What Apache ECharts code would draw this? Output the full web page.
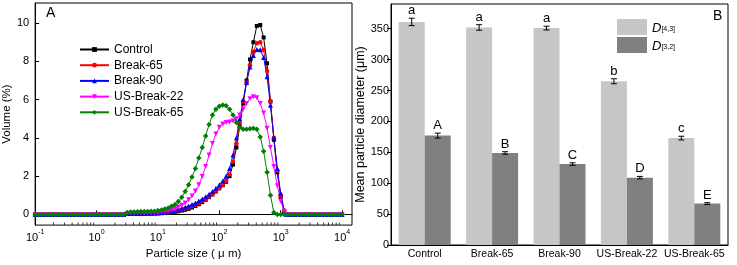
<!DOCTYPE html>
<html>
<head>
<meta charset="utf-8">
<script src="https://cdn.jsdelivr.net/npm/echarts@6/dist/echarts.min.js"></script>
<style>
  html, body { margin: 0; padding: 0; background: #fff; }
  #chart { width: 737px; height: 265px; }
</style>
</head>
<body>
<div id="chart"></div>
<script>
// particle size bins (um), log spaced
const sizes = [
  0.1, 0.114, 0.129, 0.147, 0.167, 0.19, 0.215, 0.245, 0.278, 0.316, 0.359, 0.408, 0.464, 0.527, 0.599, 0.681, 0.774, 0.88,
  1, 1.14, 1.29, 1.47, 1.67, 1.9, 2.15, 2.45, 2.78, 3.16, 3.59, 4.08, 4.64, 5.27, 5.99, 6.81, 7.74, 8.8,
  10, 11.4, 12.9, 14.7, 16.7, 19, 21.5, 24.5, 27.8, 31.6, 35.9, 40.8, 46.4, 52.7, 59.9, 68.1, 77.4, 88,
  100, 114, 129, 147, 167, 190, 215, 245, 278, 316, 359, 408, 464, 527, 599, 681, 774, 880,
  1000, 1140, 1290, 1470, 1670, 1900, 2150, 2450, 2780, 3160, 3590, 4080, 4640, 5270, 5990, 6810, 7740, 8800,
  10000
];

// volume (%) per bin
const control = [
  0, 0, 0, 0, 0, 0, 0, 0, 0, 0, 0, 0, 0, 0, 0, 0, 0, 0,
  0, 0, 0, 0, 0, 0, 0, 0, 0, 0.02, 0.02, 0.03, 0.03, 0.03, 0.04, 0.04, 0.04, 0.05,
  0.05, 0.06, 0.07, 0.08, 0.1, 0.13, 0.16, 0.2, 0.24, 0.29, 0.36, 0.44, 0.53, 0.64, 0.76, 0.9, 1.04, 1.2,
  1.36, 1.52, 1.7, 2.0, 2.6, 3.5, 4.6, 5.8, 7.0, 8.1, 9.0, 9.85, 9.9, 9.25, 7.9, 5.9, 3.9, 2.2,
  0.9, 0.1, 0, 0, 0, 0, 0, 0, 0, 0, 0, 0, 0, 0, 0, 0, 0, 0,
  0
];
const break65 = [
  0, 0, 0, 0, 0, 0, 0, 0, 0, 0, 0, 0, 0, 0, 0, 0, 0, 0,
  0, 0, 0, 0, 0, 0, 0, 0, 0, 0.03, 0.03, 0.04, 0.04, 0.04, 0.05, 0.05, 0.05, 0.06,
  0.07, 0.08, 0.1, 0.12, 0.14, 0.17, 0.21, 0.25, 0.3, 0.36, 0.43, 0.51, 0.6, 0.7, 0.81, 0.93, 1.06, 1.2,
  1.36, 1.55, 1.75, 2.1, 2.75, 3.7, 4.8, 5.9, 6.9, 7.8, 8.5, 8.95, 9.0, 8.6, 7.5, 5.9, 4.0, 2.3,
  1.0, 0.2, 0, 0, 0, 0, 0, 0, 0, 0, 0, 0, 0, 0, 0, 0, 0, 0,
  0
];
const break90 = [
  0, 0, 0, 0, 0, 0, 0, 0, 0, 0, 0, 0, 0, 0, 0, 0, 0, 0,
  0, 0, 0, 0, 0, 0, 0, 0, 0, 0.04, 0.04, 0.05, 0.05, 0.05, 0.06, 0.06, 0.07, 0.07,
  0.08, 0.1, 0.12, 0.14, 0.17, 0.21, 0.26, 0.31, 0.37, 0.44, 0.52, 0.6, 0.7, 0.8, 0.92, 1.05, 1.2, 1.36,
  1.55, 1.75, 2.0, 2.4, 3.1, 4.0, 5.0, 6.0, 6.9, 7.7, 8.3, 8.62, 8.6, 8.2, 7.2, 5.7, 4.0, 2.4,
  1.1, 0.2, 0, 0, 0, 0, 0, 0, 0, 0, 0, 0, 0, 0, 0, 0, 0, 0,
  0
];
const usBreak22 = [
  0, 0, 0, 0, 0, 0, 0, 0, 0, 0, 0, 0, 0, 0, 0, 0, 0, 0,
  0, 0, 0, 0, 0, 0, 0, 0, 0, 0.05, 0.06, 0.06, 0.07, 0.07, 0.07, 0.08, 0.08, 0.08,
  0.1, 0.12, 0.15, 0.19, 0.24, 0.3, 0.38, 0.48, 0.6, 0.76, 0.96, 1.22, 1.55, 1.98, 2.5, 3.1, 3.7, 4.2,
  4.55, 4.72, 4.8, 4.83, 4.88, 5.0, 5.2, 5.5, 5.8, 6.05, 6.15, 6.1, 5.8, 5.3, 4.5, 3.5, 2.5, 1.5,
  0.7, 0.15, 0, 0, 0, 0, 0, 0, 0, 0, 0, 0, 0, 0, 0, 0, 0, 0,
  0
];
const usBreak65 = [
  0, 0, 0, 0, 0, 0, 0, 0, 0, 0, 0, 0, 0, 0, 0, 0, 0, 0,
  0, 0, 0, 0, 0, 0, 0, 0, 0, 0.1, 0.12, 0.13, 0.14, 0.15, 0.15, 0.15, 0.16, 0.17,
  0.2, 0.23, 0.28, 0.34, 0.42, 0.52, 0.68, 0.9, 1.2, 1.55, 1.95, 2.4, 2.95, 3.5, 4.1, 4.7, 5.2, 5.5,
  5.65, 5.72, 5.68, 5.5, 5.2, 4.8, 4.55, 4.45, 4.45, 4.48, 4.5, 4.45, 4.05, 3.3, 2.2, 1.0, 0.1, 0,
  0, 0, 0, 0, 0, 0, 0, 0, 0, 0, 0, 0, 0, 0, 0, 0, 0, 0,
  0
];

// minor ticks on the log axis
const minorTicks = [
  0.2, 0.3, 0.4, 0.5, 0.6, 0.7, 0.8, 0.9,
  2, 3, 4, 5, 6, 7, 8, 9,
  20, 30, 40, 50, 60, 70, 80, 90,
  200, 300, 400, 500, 600, 700, 800, 900,
  2000, 3000, 4000, 5000, 6000, 7000, 8000, 9000
];

// panel B
const categories = ['Control', 'Break-65', 'Break-90', 'US-Break-22', 'US-Break-65'];
const d43 = [361, 352, 351, 265, 173];
const d43Err = [6, 4.5, 3, 4, 3];
const d43Letters = ['a', 'a', 'a', 'b', 'c'];
const d32 = [177, 149, 131, 109, 67];
const d32Err = [4, 2, 2, 2, 1.5];
const d32Letters = ['A', 'B', 'C', 'D', 'E'];

const font = '"Liberation Sans", Arial, sans-serif';
const chart = echarts.init(document.getElementById('chart'));

const Y_MIN = -0.56;
const BAR_W = 26;

const lines = [
  { name: 'Control', data: control, color: '#000000', symbol: 'rect', size: 4 },
  { name: 'Break-65', data: break65, color: '#ff0000', symbol: 'circle', size: 4.5 },
  { name: 'Break-90', data: break90, color: '#0000ff', symbol: 'triangle', size: 5 },
  { name: 'US-Break-22', data: usBreak22, color: '#ff00ff', symbol: 'path://M0,0 L10,0 L5,9 Z', size: 5 },
  { name: 'US-Break-65', data: usBreak65, color: '#008000', symbol: 'diamond', size: 5.5 }
];

const lineSeries = lines.map(s => ({
  name: s.name,
  type: 'line',
  xAxisIndex: 0,
  yAxisIndex: 0,
  data: sizes.map((x, i) => [x, s.data[i]]),
  symbol: s.symbol,
  symbolSize: s.size,
  showSymbol: true,
  lineStyle: { width: 1, color: s.color },
  itemStyle: { color: s.color },
  z: 3
}));

function errorSeries(values, errs, letters, shift) {
  return {
    type: 'custom',
    xAxisIndex: 1,
    yAxisIndex: 1,
    silent: true,
    z: 5,
    data: values.map((v, i) => [i, v, errs[i]]),
    renderItem: (params, api) => {
      const i = api.value(0), v = api.value(1), e = api.value(2);
      const hi = api.coord([i, v + e]);
      const lo = api.coord([i, v - e]);
      const x = hi[0] + shift;
      const cap = 3;
      const st = { stroke: '#000', lineWidth: 1 };
      return {
        type: 'group',
        children: [
          { type: 'line', shape: { x1: x, y1: hi[1], x2: x, y2: lo[1] }, style: st },
          { type: 'line', shape: { x1: x - cap, y1: hi[1], x2: x + cap, y2: hi[1] }, style: st },
          { type: 'line', shape: { x1: x - cap, y1: lo[1], x2: x + cap, y2: lo[1] }, style: st },
          {
            type: 'text', x: x, y: hi[1] - 1,
            style: { text: letters[params.dataIndex], textAlign: 'center', textVerticalAlign: 'bottom', fill: '#000', font: '13px ' + font }
          }
        ]
      };
    }
  };
}

const option = {
  animation: false,
  textStyle: { fontFamily: font, color: '#000' },
  title: [
    { text: 'A', left: 46, top: 6, padding: 0, textStyle: { fontSize: 14, fontWeight: 'normal', color: '#000', fontFamily: font } },
    { text: 'B', left: 713, top: 9, padding: 0, textStyle: { fontSize: 14, fontWeight: 'normal', color: '#000', fontFamily: font } }
  ],
  legend: [
    {
      data: lines.map(s => s.name),
      orient: 'vertical',
      left: 79, top: 43,
      padding: 0,
      itemWidth: 29, itemHeight: 6, itemGap: 2.7,
      textStyle: { fontSize: 12, lineHeight: 13, color: '#000', fontFamily: font }
    },
    {
      data: ['D[4,3]', 'D[3,2]'],
      orient: 'vertical',
      left: 617, top: 19,
      padding: 0,
      icon: 'rect',
      itemWidth: 30, itemHeight: 16, itemGap: 2,
      formatter: name => '{d|D}{s|' + name.slice(1) + '}',
      textStyle: {
        color: '#000', fontFamily: font,
        rich: {
          d: { fontSize: 13, fontStyle: 'italic', lineHeight: 11, verticalAlign: 'top', fontFamily: font },
          s: { fontSize: 7, lineHeight: 8, verticalAlign: 'bottom', fontFamily: font }
        }
      }
    }
  ],
  grid: [
    { left: 35, top: 3, width: 317, height: 228, show: true, borderColor: '#000', borderWidth: 1 },
    { left: 391, top: 4, width: 337, height: 241, show: true, borderColor: '#000', borderWidth: 1 }
  ],
  xAxis: [
    {
      type: 'log', logBase: 10, gridIndex: 0,
      min: 0.1, max: 14500,
      axisLine: { lineStyle: { color: '#000', width: 1 } },
      axisTick: { inside: true, length: 4, lineStyle: { color: '#000' } },
      splitLine: { show: false },
      axisLabel: {
        margin: 3,
        showMaxLabel: false,
        formatter: v => {
          const lg = Math.log10(v);
          const e = Math.round(lg);
          if (Math.abs(lg - e) > 1e-6) return '';
          return '{b|10}{s|' + e + '}';
        },
        rich: {
          b: { fontSize: 11, lineHeight: 15, verticalAlign: 'bottom', fontFamily: font, color: '#000' },
          s: { fontSize: 7, lineHeight: 8, verticalAlign: 'top', fontFamily: font, color: '#000' }
        }
      },
      name: 'Particle size ( \u03bc m)',
      nameLocation: 'middle',
      nameGap: 15,
      nameTextStyle: { fontSize: 11.5, color: '#000', fontFamily: font }
    },
    {
      type: 'category', gridIndex: 1,
      data: categories,
      axisLine: { lineStyle: { color: '#000', width: 1 } },
      axisTick: { show: false },
      axisLabel: { interval: 0, fontSize: 10.5, margin: 4, color: '#000', fontFamily: font }
    }
  ],
  yAxis: [
    {
      type: 'value', gridIndex: 0,
      min: Y_MIN, max: 11.05,
      axisLine: { show: true, lineStyle: { color: '#000', width: 1 } },
      axisTick: { show: true, inside: true, length: 4, lineStyle: { color: '#000' } },
      splitLine: { show: false },
      axisLabel: { fontSize: 11, margin: 6, color: '#000', fontFamily: font, showMinLabel: false, showMaxLabel: false },
      name: 'Volume (%)',
      nameLocation: 'middle',
      nameGap: 16,
      nameTextStyle: { fontSize: 11.5, color: '#000', fontFamily: font }
    },
    {
      type: 'value', gridIndex: 1,
      min: 0, max: 390, interval: 50,
      axisLine: { show: true, lineStyle: { color: '#000', width: 1 } },
      axisTick: { show: true, length: 4, lineStyle: { color: '#000' } },
      splitLine: { show: false },
      axisLabel: { fontSize: 11, margin: 2, color: '#000', fontFamily: font, showMaxLabel: false },
      name: 'Mean particle diameter (\u03bcm)',
      nameLocation: 'middle',
      nameGap: 24,
      nameTextStyle: { fontSize: 12.5, color: '#000', fontFamily: font }
    }
  ],
  series: [
    {
      type: 'scatter', xAxisIndex: 0, yAxisIndex: 0,
      data: minorTicks.map(x => [x, Y_MIN]),
      symbol: 'rect', symbolSize: [1, 2.5], symbolOffset: [0, -1.25],
      itemStyle: { color: '#000' },
      silent: true, clip: false, z: 1
    },
    ...lineSeries,
    {
      name: 'D[4,3]', type: 'bar', xAxisIndex: 1, yAxisIndex: 1,
      data: d43, barWidth: BAR_W, barGap: '0%',
      itemStyle: { color: '#c6c6c6' }
    },
    {
      name: 'D[3,2]', type: 'bar', xAxisIndex: 1, yAxisIndex: 1,
      data: d32, barWidth: BAR_W, barGap: '0%',
      itemStyle: { color: '#808080' }
    },
    errorSeries(d43, d43Err, d43Letters, -BAR_W / 2),
    errorSeries(d32, d32Err, d32Letters, BAR_W / 2)
  ]
};

chart.setOption(option);
</script>
</body>
</html>
